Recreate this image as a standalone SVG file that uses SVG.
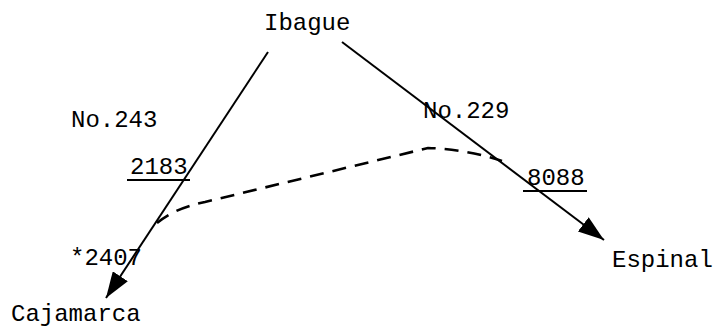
<svg xmlns="http://www.w3.org/2000/svg" width="719" height="330" viewBox="0 0 719 330">
<style>
text{font-family:"Liberation Mono","DejaVu Sans Mono",monospace;font-size:24px;fill:#000}
.l{stroke:#000;stroke-width:2;fill:none}
.d{stroke:#000;stroke-width:2.6;fill:none;stroke-dasharray:14 9}
</style>
<defs>
<marker id="ah" viewBox="0 0 26 18" refX="26" refY="9" markerWidth="26" markerHeight="18" markerUnits="userSpaceOnUse" orient="auto">
<path d="M0,0 L26,9 L0,18 Z" fill="#000"/>
</marker>
</defs>
<rect width="719" height="330" fill="#fff"/>
<g id="connectors">
<line class="l" x1="268" y1="52" x2="106" y2="298" marker-end="url(#ah)"/>
<line class="l" x1="342" y1="42" x2="604" y2="240" marker-end="url(#ah)"/>
<path class="d" d="M157,223 Q175,208 205,202 L428,148 Q465,149 502,161"/>
<line class="l" x1="127" y1="180" x2="190" y2="180"/>
<line class="l" x1="523" y1="191" x2="587" y2="191"/>
</g>
<g id="ibague"><text x="264" y="30">Ibague</text></g>
<g id="no243"><text x="71" y="127">No.243</text></g>
<g id="v2183"><text x="130" y="174">2183</text></g>
<g id="v2407"><text x="70" y="265">*2407</text></g>
<g id="no229"><text x="423" y="118">No.229</text></g>
<g id="v8088"><text x="527" y="185">8088</text></g>
<g id="cajamarca"><text x="11" y="321">Cajamarca</text></g>
<g id="espinal"><text x="612" y="267">Espinal</text></g>
</svg>
